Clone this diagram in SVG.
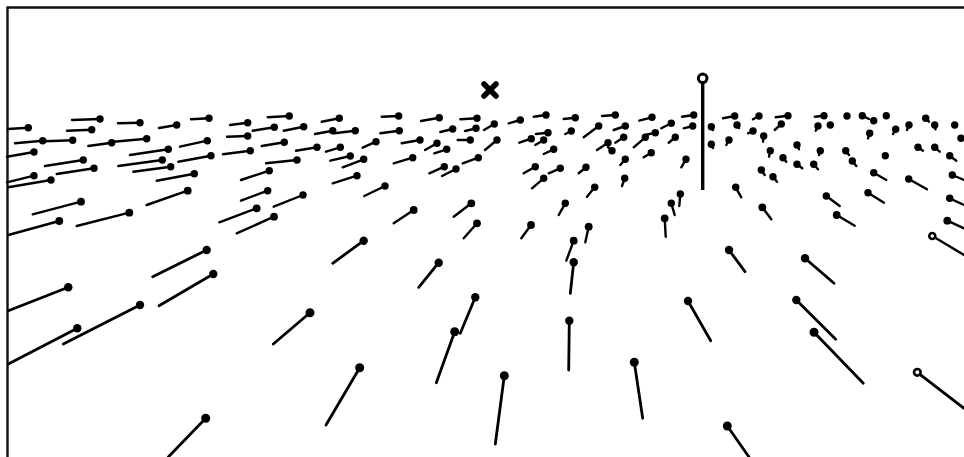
<svg xmlns="http://www.w3.org/2000/svg" width="964" height="457" viewBox="0 0 964 457">
<style>
.t{stroke:#000;stroke-width:2.4;stroke-linecap:round;fill:none}
.n{stroke:#000;stroke-width:2.8;stroke-linecap:round;fill:none}
.h{fill:#000}
.o{fill:#fff;stroke:#000;stroke-width:2.6}
.f{stroke:#111;stroke-width:2.4;fill:none}
</style>
<rect width="964" height="457" fill="#fff"/>
<g id="frame"><path class="f" d="M7.5 457 V7.5 H964"/></g>
<g id="far-pins">
<line class="t" x1="28.3" y1="127.7" x2="8" y2="129"/><circle class="h" cx="28.3" cy="127.7" r="3.7"/>
<line class="t" x1="100" y1="119" x2="72" y2="120"/><circle class="h" cx="100" cy="119" r="3.7"/>
<line class="t" x1="140" y1="122.7" x2="118" y2="123.3"/><circle class="h" cx="140" cy="122.7" r="3.7"/>
<line class="t" x1="176.7" y1="125" x2="159" y2="128"/><circle class="h" cx="176.7" cy="125" r="3.7"/>
<line class="t" x1="209" y1="118.3" x2="191" y2="119.3"/><circle class="h" cx="209" cy="118.3" r="3.7"/>
<line class="t" x1="91.7" y1="129.7" x2="67" y2="130.7"/><circle class="h" cx="91.7" cy="129.7" r="3.7"/>
<line class="t" x1="42.7" y1="140.7" x2="15" y2="143.3"/><circle class="h" cx="42.7" cy="140.7" r="3.7"/>
<line class="t" x1="72.7" y1="140.3" x2="45" y2="141.3"/><circle class="h" cx="72.7" cy="140.3" r="3.7"/>
<line class="t" x1="111.7" y1="142.7" x2="88.3" y2="146"/><circle class="h" cx="111.7" cy="142.7" r="3.7"/>
<line class="t" x1="146.7" y1="138.7" x2="113.3" y2="141.7"/><circle class="h" cx="146.7" cy="138.7" r="3.7"/>
<line class="t" x1="207.3" y1="140.7" x2="180" y2="146.7"/><circle class="h" cx="207.3" cy="140.7" r="3.7"/>
<line class="t" x1="34" y1="152" x2="7" y2="156.7"/><circle class="h" cx="34" cy="152" r="3.7"/>
<line class="t" x1="83.3" y1="160" x2="45" y2="166"/><circle class="h" cx="83.3" cy="160" r="3.7"/>
<line class="t" x1="94" y1="168.3" x2="56.7" y2="174"/><circle class="h" cx="94" cy="168.3" r="3.7"/>
<line class="t" x1="168.3" y1="149.3" x2="130" y2="155"/><circle class="h" cx="168.3" cy="149.3" r="3.7"/>
<line class="t" x1="162.3" y1="160" x2="118.3" y2="166"/><circle class="h" cx="162.3" cy="160" r="3.7"/>
<line class="t" x1="170.7" y1="166.7" x2="133.3" y2="171.7"/><circle class="h" cx="170.7" cy="166.7" r="3.7"/>
<line class="t" x1="211" y1="155.7" x2="178.3" y2="161.7"/><circle class="h" cx="211" cy="155.7" r="3.7"/>
<line class="t" x1="34" y1="175.7" x2="7" y2="182.3"/><circle class="h" cx="34" cy="175.7" r="3.7"/>
<line class="t" x1="51" y1="180" x2="8.3" y2="187.3"/><circle class="h" cx="51" cy="180" r="3.7"/>
<line class="t" x1="194.3" y1="173.7" x2="156.7" y2="180.7"/><circle class="h" cx="194.3" cy="173.7" r="3.7"/>
<line class="t" x1="187.7" y1="190.7" x2="146.7" y2="205"/><circle class="h" cx="187.7" cy="190.7" r="3.9"/>
<line class="t" x1="247.7" y1="122.7" x2="230" y2="125"/><circle class="h" cx="247.7" cy="122.7" r="3.7"/>
<line class="t" x1="247.7" y1="136" x2="227" y2="136.7"/><circle class="h" cx="247.7" cy="136" r="3.7"/>
<line class="t" x1="250.3" y1="150.7" x2="223" y2="154.3"/><circle class="h" cx="250.3" cy="150.7" r="3.7"/>
<line class="t" x1="289.3" y1="116" x2="267.7" y2="117.3"/><circle class="h" cx="289.3" cy="116" r="3.7"/>
<line class="t" x1="274.3" y1="127.3" x2="252.7" y2="130.7"/><circle class="h" cx="274.3" cy="127.3" r="3.7"/>
<line class="t" x1="303.7" y1="126.7" x2="283.7" y2="130.7"/><circle class="h" cx="303.7" cy="126.7" r="3.7"/>
<line class="t" x1="339.3" y1="118.3" x2="321.7" y2="121.7"/><circle class="h" cx="339.3" cy="118.3" r="3.7"/>
<line class="t" x1="332.7" y1="130.7" x2="315" y2="134"/><circle class="h" cx="332.7" cy="130.7" r="3.7"/>
<line class="t" x1="355.3" y1="130.7" x2="334.3" y2="133.3"/><circle class="h" cx="355.3" cy="130.7" r="3.7"/>
<line class="t" x1="398.7" y1="116" x2="381.7" y2="116.7"/><circle class="h" cx="398.7" cy="116" r="3.7"/>
<line class="t" x1="399.3" y1="130.7" x2="380.3" y2="133.3"/><circle class="h" cx="399.3" cy="130.7" r="3.7"/>
<line class="t" x1="439.3" y1="117.7" x2="421" y2="121"/><circle class="h" cx="439.3" cy="117.7" r="3.7"/>
<line class="t" x1="452.7" y1="129" x2="440.3" y2="132"/><circle class="h" cx="452.7" cy="129" r="3.7"/>
<line class="t" x1="477" y1="118.3" x2="460.3" y2="119.3"/><circle class="h" cx="477" cy="118.3" r="3.7"/>
<line class="t" x1="284.3" y1="142.3" x2="261.7" y2="146"/><circle class="h" cx="284.3" cy="142.3" r="3.7"/>
<line class="t" x1="317" y1="147.3" x2="296" y2="150.7"/><circle class="h" cx="317" cy="147.3" r="3.7"/>
<line class="t" x1="340.3" y1="147.3" x2="326" y2="151.7"/><circle class="h" cx="340.3" cy="147.3" r="3.7"/>
<line class="t" x1="376" y1="141.7" x2="362.7" y2="147.7"/><circle class="h" cx="376" cy="141.7" r="3.7"/>
<line class="t" x1="420" y1="140" x2="401.7" y2="143.3"/><circle class="h" cx="420" cy="140" r="3.7"/>
<line class="t" x1="437" y1="143.3" x2="425" y2="150"/><circle class="h" cx="437" cy="143.3" r="3.7"/>
<line class="t" x1="446.7" y1="149.3" x2="434.3" y2="153.3"/><circle class="h" cx="446.7" cy="149.3" r="3.7"/>
<line class="t" x1="470.3" y1="140" x2="457.7" y2="140"/><circle class="h" cx="470.3" cy="140" r="3.7"/>
<line class="t" x1="476" y1="128.3" x2="465" y2="131"/><circle class="h" cx="476" cy="128.3" r="3.7"/>
<line class="t" x1="297" y1="160" x2="266" y2="163.3"/><circle class="h" cx="297" cy="160" r="3.7"/>
<line class="t" x1="350.3" y1="156" x2="330.3" y2="160.7"/><circle class="h" cx="350.3" cy="156" r="3.7"/>
<line class="t" x1="363.7" y1="159.3" x2="342.7" y2="167.3"/><circle class="h" cx="363.7" cy="159.3" r="3.7"/>
<line class="t" x1="412.7" y1="157.7" x2="393.7" y2="163.3"/><circle class="h" cx="412.7" cy="157.7" r="3.7"/>
<line class="t" x1="444.3" y1="166.7" x2="429.3" y2="173.3"/><circle class="h" cx="444.3" cy="166.7" r="3.7"/>
<line class="t" x1="456" y1="169" x2="442" y2="176"/><circle class="h" cx="456" cy="169" r="3.7"/>
<line class="t" x1="478.3" y1="157.7" x2="462.7" y2="163.3"/><circle class="h" cx="478.3" cy="157.7" r="3.7"/>
<line class="t" x1="269.3" y1="170.7" x2="241" y2="180"/><circle class="h" cx="269.3" cy="170.7" r="3.7"/>
<line class="t" x1="357" y1="175.7" x2="332.7" y2="183.3"/><circle class="h" cx="357" cy="175.7" r="3.7"/>
<line class="t" x1="385" y1="186" x2="364.3" y2="196"/><circle class="h" cx="385" cy="186" r="3.7"/>
<line class="t" x1="267.7" y1="190.7" x2="241" y2="200.7"/><circle class="h" cx="267.7" cy="190.7" r="3.7"/>
<line class="t" x1="303" y1="195" x2="273.7" y2="206.7"/><circle class="h" cx="303" cy="195" r="3.7"/>
<line class="t" x1="494.3" y1="124" x2="484" y2="130"/><circle class="h" cx="494.3" cy="124" r="3.7"/>
<line class="t" x1="497" y1="140" x2="485" y2="150"/><circle class="h" cx="497" cy="140" r="3.7"/>
<line class="t" x1="520.3" y1="120" x2="508.7" y2="123.3"/><circle class="h" cx="520.3" cy="120" r="3.7"/>
<line class="t" x1="546" y1="115" x2="533.7" y2="116.7"/><circle class="h" cx="546" cy="115" r="3.7"/>
<line class="t" x1="548" y1="132.7" x2="536" y2="134"/><circle class="h" cx="548" cy="132.7" r="3.7"/>
<line class="t" x1="531.3" y1="138.7" x2="519.3" y2="142.7"/><circle class="h" cx="531.3" cy="138.7" r="3.7"/>
<line class="t" x1="543.7" y1="140" x2="535.3" y2="145"/><circle class="h" cx="543.7" cy="140" r="3.7"/>
<line class="t" x1="553.7" y1="149.3" x2="543.7" y2="154"/><circle class="h" cx="553.7" cy="149.3" r="3.7"/>
<line class="t" x1="575.3" y1="117.7" x2="563.7" y2="119"/><circle class="h" cx="575.3" cy="117.7" r="3.7"/>
<line class="t" x1="571.3" y1="131" x2="565.3" y2="134"/><circle class="h" cx="571.3" cy="131" r="3.7"/>
<line class="t" x1="598.7" y1="126" x2="583.7" y2="137.3"/><circle class="h" cx="598.7" cy="126" r="3.7"/>
<line class="t" x1="615.3" y1="115" x2="602" y2="116"/><circle class="h" cx="615.3" cy="115" r="3.7"/>
<line class="t" x1="625.3" y1="126" x2="613.7" y2="130"/><circle class="h" cx="625.3" cy="126" r="3.7"/>
<line class="t" x1="623.7" y1="137.3" x2="615.3" y2="142.7"/><circle class="h" cx="623.7" cy="137.3" r="3.7"/>
<line class="t" x1="608" y1="142.7" x2="597" y2="150"/><circle class="h" cx="608" cy="142.7" r="3.7"/>
<line class="t" x1="612" y1="150.7" x2="608" y2="147"/><circle class="h" cx="612" cy="150.7" r="3.7"/>
<line class="t" x1="652" y1="117.3" x2="639.3" y2="120.7"/><circle class="h" cx="652" cy="117.3" r="3.7"/>
<line class="t" x1="655.3" y1="132.7" x2="645.3" y2="135"/><circle class="h" cx="655.3" cy="132.7" r="3.7"/>
<line class="t" x1="645.3" y1="137.3" x2="633.7" y2="147.3"/><circle class="h" cx="645.3" cy="137.3" r="3.7"/>
<line class="t" x1="651.3" y1="152.7" x2="643.7" y2="157.3"/><circle class="h" cx="651.3" cy="152.7" r="3.7"/>
<line class="t" x1="671.3" y1="123.3" x2="661.3" y2="128.3"/><circle class="h" cx="671.3" cy="123.3" r="3.7"/>
<line class="t" x1="675.3" y1="137.3" x2="668.7" y2="142.7"/><circle class="h" cx="675.3" cy="137.3" r="3.7"/>
<line class="t" x1="693.7" y1="115" x2="682" y2="116.7"/><circle class="h" cx="693.7" cy="115" r="3.7"/>
<line class="t" x1="692.7" y1="126" x2="683.7" y2="128.3"/><circle class="h" cx="692.7" cy="126" r="3.7"/>
<line class="t" x1="625.3" y1="159.3" x2="620.3" y2="165"/><circle class="h" cx="625.3" cy="159.3" r="3.7"/>
<line class="t" x1="624.7" y1="178.3" x2="622" y2="186"/><circle class="h" cx="624.7" cy="178.3" r="3.7"/>
<line class="t" x1="686" y1="159.3" x2="681.3" y2="167.3"/><circle class="h" cx="686" cy="159.3" r="3.7"/>
<line class="t" x1="535.3" y1="166.7" x2="523.7" y2="173.3"/><circle class="h" cx="535.3" cy="166.7" r="3.7"/>
<line class="t" x1="560.3" y1="168.3" x2="548.7" y2="173.3"/><circle class="h" cx="560.3" cy="168.3" r="3.7"/>
<line class="t" x1="543.7" y1="178.3" x2="532" y2="188.3"/><circle class="h" cx="543.7" cy="178.3" r="3.7"/>
<line class="t" x1="586" y1="167.3" x2="578.7" y2="173.3"/><circle class="h" cx="586" cy="167.3" r="3.7"/>
<line class="t" x1="594.7" y1="187.3" x2="587" y2="196.7"/><circle class="h" cx="594.7" cy="187.3" r="3.7"/>
<line class="t" x1="565.3" y1="203.3" x2="558.7" y2="215"/><circle class="h" cx="565.3" cy="203.3" r="3.7"/>
<line class="t" x1="680.3" y1="194" x2="679.3" y2="206"/><circle class="h" cx="680.3" cy="194" r="3.7"/>
<line class="t" x1="671.3" y1="203.3" x2="674.7" y2="215"/><circle class="h" cx="671.3" cy="203.3" r="3.7"/>
<line class="t" x1="711.3" y1="126.7" x2="713" y2="130"/><circle class="h" cx="711.3" cy="126.7" r="3.7"/>
<line class="t" x1="711.3" y1="144.3" x2="713" y2="148"/><circle class="h" cx="711.3" cy="144.3" r="3.7"/>
<line class="t" x1="734.7" y1="116" x2="723" y2="118.3"/><circle class="h" cx="734.7" cy="116" r="3.7"/>
<line class="t" x1="737" y1="125" x2="739" y2="128"/><circle class="h" cx="737" cy="125" r="3.7"/>
<line class="t" x1="759" y1="116" x2="753" y2="119.3"/><circle class="h" cx="759" cy="116" r="3.7"/>
<line class="t" x1="753" y1="131" x2="748" y2="133.3"/><circle class="h" cx="753" cy="131" r="3.7"/>
<line class="t" x1="763.7" y1="136" x2="763" y2="141.7"/><circle class="h" cx="763.7" cy="136" r="3.7"/>
<line class="t" x1="788" y1="115.7" x2="775.7" y2="117.3"/><circle class="h" cx="788" cy="115.7" r="3.7"/>
<line class="t" x1="781.3" y1="124" x2="774.7" y2="130"/><circle class="h" cx="781.3" cy="124" r="3.7"/>
<line class="t" x1="729" y1="140" x2="726.3" y2="145"/><circle class="h" cx="729" cy="140" r="3.7"/>
<line class="t" x1="824" y1="115.7" x2="814.7" y2="116.7"/><circle class="h" cx="824" cy="115.7" r="3.7"/>
<circle class="h" cx="830.3" cy="125" r="3.7"/>
<line class="t" x1="818" y1="126" x2="815.7" y2="130.7"/><circle class="h" cx="818" cy="126" r="3.7"/>
<circle class="h" cx="847" cy="116" r="3.7"/>
<line class="t" x1="862.3" y1="115.7" x2="869" y2="119"/><circle class="h" cx="862.3" cy="115.7" r="3.7"/>
<circle class="h" cx="873.7" cy="120.7" r="3.7"/>
<circle class="h" cx="886.3" cy="115.7" r="3.7"/>
<line class="t" x1="869.7" y1="133.3" x2="868" y2="138.3"/><circle class="h" cx="869.7" cy="133.3" r="3.7"/>
<line class="t" x1="895.7" y1="129.3" x2="893" y2="134"/><circle class="h" cx="895.7" cy="129.3" r="3.7"/>
<line class="t" x1="909" y1="125" x2="907" y2="130"/><circle class="h" cx="909" cy="125" r="3.7"/>
<line class="t" x1="925.7" y1="118.3" x2="929" y2="121.7"/><circle class="h" cx="925.7" cy="118.3" r="3.7"/>
<line class="t" x1="934.7" y1="125" x2="935.5" y2="129.3"/><circle class="h" cx="934.7" cy="125" r="3.7"/>
<circle class="h" cx="954.7" cy="125" r="3.7"/>
<circle class="h" cx="961" cy="138.3" r="3.7"/>
<line class="t" x1="797" y1="145" x2="799" y2="149.3"/><circle class="h" cx="797" cy="145" r="3.7"/>
<line class="t" x1="770.3" y1="150.7" x2="769" y2="156.7"/><circle class="h" cx="770.3" cy="150.7" r="3.7"/>
<line class="t" x1="783" y1="157.7" x2="786.3" y2="161.7"/><circle class="h" cx="783" cy="157.7" r="3.7"/>
<line class="t" x1="820.3" y1="150.7" x2="819" y2="155"/><circle class="h" cx="820.3" cy="150.7" r="3.7"/>
<line class="t" x1="845.7" y1="150.7" x2="849" y2="155"/><circle class="h" cx="845.7" cy="150.7" r="3.7"/>
<line class="t" x1="852.3" y1="161" x2="856.3" y2="166"/><circle class="h" cx="852.3" cy="161" r="3.7"/>
<line class="t" x1="797" y1="164.3" x2="802.3" y2="168.3"/><circle class="h" cx="797" cy="164.3" r="3.7"/>
<line class="t" x1="813.7" y1="164.3" x2="818" y2="169.3"/><circle class="h" cx="813.7" cy="164.3" r="3.7"/>
<circle class="h" cx="885.3" cy="155.7" r="3.7"/>
<line class="t" x1="918" y1="147.3" x2="923" y2="150.7"/><circle class="h" cx="918" cy="147.3" r="3.7"/>
<line class="t" x1="934.7" y1="147.3" x2="939.7" y2="151.7"/><circle class="h" cx="934.7" cy="147.3" r="3.7"/>
<line class="t" x1="949.7" y1="155.7" x2="956.3" y2="160.7"/><circle class="h" cx="949.7" cy="155.7" r="3.7"/>
<line class="t" x1="761.3" y1="170" x2="764.7" y2="175"/><circle class="h" cx="761.3" cy="170" r="3.7"/>
<line class="t" x1="773" y1="176.7" x2="777" y2="181.7"/><circle class="h" cx="773" cy="176.7" r="3.7"/>
<line class="t" x1="873.7" y1="172.7" x2="886.3" y2="180"/><circle class="h" cx="873.7" cy="172.7" r="3.7"/>
<line class="t" x1="908.7" y1="179" x2="927" y2="189.3"/><circle class="h" cx="908.7" cy="179" r="3.7"/>
<line class="t" x1="952.3" y1="175" x2="964" y2="180"/><circle class="h" cx="952.3" cy="175" r="3.7"/>
<line class="t" x1="735.7" y1="187.3" x2="741.3" y2="197.3"/><circle class="h" cx="735.7" cy="187.3" r="3.7"/>
<line class="t" x1="826.3" y1="196" x2="839.7" y2="206"/><circle class="h" cx="826.3" cy="196" r="3.7"/>
<line class="t" x1="868" y1="192.7" x2="884" y2="202.7"/><circle class="h" cx="868" cy="192.7" r="3.7"/>
<line class="t" x1="949.7" y1="198.3" x2="964" y2="205"/><circle class="h" cx="949.7" cy="198.3" r="3.7"/>
</g>
<g id="near-pins">
<line class="t" x1="256.7" y1="208.3" x2="219.3" y2="222.3"/><circle class="h" cx="256.7" cy="208.3" r="3.9"/>
<line class="t" x1="413.7" y1="210" x2="393.7" y2="223.3"/><circle class="h" cx="413.7" cy="210" r="3.9"/>
<line class="t" x1="471.3" y1="203.3" x2="453.7" y2="216.7"/><circle class="h" cx="471.3" cy="203.3" r="3.9"/>
<line class="t" x1="664.7" y1="218.3" x2="665.7" y2="236.7"/><circle class="h" cx="664.7" cy="218.3" r="3.9"/>
<line class="t" x1="762.3" y1="207.3" x2="771.3" y2="219.3"/><circle class="h" cx="762.3" cy="207.3" r="3.9"/>
<line class="t" x1="836.7" y1="215" x2="854.7" y2="225.7"/><circle class="h" cx="836.7" cy="215" r="3.9"/>
<line class="t" x1="947.3" y1="220.7" x2="964" y2="228.3"/><circle class="h" cx="947.3" cy="220.7" r="3.9"/>
<line class="t" x1="932.3" y1="236" x2="964" y2="255"/><circle class="o" cx="932.3" cy="236" r="3"/>
<line class="n" x1="729" y1="250" x2="745" y2="271.7"/><circle class="h" cx="729" cy="250" r="4.2"/>
<line class="n" x1="805" y1="258.3" x2="834" y2="283.3"/><circle class="h" cx="805" cy="258.3" r="4.2"/>
<line class="n" x1="688" y1="301" x2="710.7" y2="340.7"/><circle class="h" cx="688" cy="301" r="4.2"/>
<line class="n" x1="796.3" y1="300" x2="835.7" y2="339.3"/><circle class="h" cx="796.3" cy="300" r="4.2"/>
<line class="n" x1="814" y1="332.3" x2="863.3" y2="383.3"/><circle class="h" cx="814" cy="332.3" r="4.5"/>
<line class="n" x1="917.3" y1="372.3" x2="964" y2="408.3"/><circle class="o" cx="917.3" cy="372.3" r="3.3"/>
<line class="n" x1="727.3" y1="426" x2="749" y2="457"/><circle class="h" cx="727.3" cy="426" r="4.5"/>
<line class="t" x1="477" y1="223.3" x2="463.7" y2="238.3"/><circle class="h" cx="477" cy="223.3" r="3.9"/>
<line class="t" x1="531" y1="225" x2="521.3" y2="238.3"/><circle class="h" cx="531" cy="225" r="3.9"/>
<line class="t" x1="588.7" y1="226.7" x2="585.3" y2="242.3"/><circle class="h" cx="588.7" cy="226.7" r="3.9"/>
<line class="t" x1="573.7" y1="240.7" x2="566.3" y2="260.7"/><circle class="h" cx="573.7" cy="240.7" r="3.9"/>
<line class="n" x1="363.7" y1="240.7" x2="332.7" y2="263.3"/><circle class="h" cx="363.7" cy="240.7" r="4.2"/>
<line class="n" x1="438.7" y1="262.7" x2="418.7" y2="287.3"/><circle class="h" cx="438.7" cy="262.7" r="4.2"/>
<line class="n" x1="573.7" y1="262.3" x2="570.3" y2="293.3"/><circle class="h" cx="573.7" cy="262.3" r="4.2"/>
<line class="n" x1="475.3" y1="297.3" x2="460.3" y2="333.3"/><circle class="h" cx="475.3" cy="297.3" r="4.2"/>
<line class="n" x1="454.7" y1="331.7" x2="436.3" y2="382.7"/><circle class="h" cx="454.7" cy="331.7" r="4.5"/>
<line class="n" x1="569.3" y1="320.7" x2="568.7" y2="370"/><circle class="h" cx="569.3" cy="320.7" r="4.2"/>
<line class="n" x1="359.7" y1="367.7" x2="326" y2="425"/><circle class="h" cx="359.7" cy="367.7" r="4.5"/>
<line class="n" x1="504.3" y1="375.7" x2="495.3" y2="444"/><circle class="h" cx="504.3" cy="375.7" r="4.5"/>
<line class="n" x1="634.3" y1="362.3" x2="642.7" y2="418.3"/><circle class="h" cx="634.3" cy="362.3" r="4.5"/>
<line class="t" x1="81" y1="201.7" x2="32.7" y2="214.3"/><circle class="h" cx="81" cy="201.7" r="3.9"/>
<line class="t" x1="59.3" y1="221" x2="8.3" y2="235"/><circle class="h" cx="59.3" cy="221" r="3.9"/>
<line class="t" x1="129.3" y1="212.7" x2="76.7" y2="226"/><circle class="h" cx="129.3" cy="212.7" r="3.9"/>
<line class="t" x1="274" y1="216.7" x2="236.7" y2="233.3"/><circle class="h" cx="274" cy="216.7" r="3.9"/>
<line class="n" x1="206.7" y1="250" x2="152.7" y2="276.7"/><circle class="h" cx="206.7" cy="250" r="4.2"/>
<line class="n" x1="213.3" y1="274" x2="159" y2="305.7"/><circle class="h" cx="213.3" cy="274" r="4.2"/>
<line class="n" x1="68.3" y1="287.3" x2="8.3" y2="310.7"/><circle class="h" cx="68.3" cy="287.3" r="4.2"/>
<line class="n" x1="140" y1="305" x2="63.3" y2="344"/><circle class="h" cx="140" cy="305" r="4.2"/>
<line class="n" x1="77.3" y1="328.3" x2="8.3" y2="364"/><circle class="h" cx="77.3" cy="328.3" r="4.2"/>
<line class="n" x1="310" y1="312.7" x2="273.3" y2="344"/><circle class="h" cx="310" cy="312.7" r="4.5"/>
<line class="n" x1="205.7" y1="418.3" x2="168.3" y2="457"/><circle class="h" cx="205.7" cy="418.3" r="4.5"/>
</g>
<g id="marker-x"><path d="M484 84 L496 96 M496 84 L484 96" stroke="#000" stroke-width="5.5" stroke-linecap="round"/></g>
<g id="pole">
<line x1="702.7" y1="83" x2="702.7" y2="190" stroke="#000" stroke-width="3.4"/>
<circle cx="702.7" cy="78.3" r="4.3" fill="#fff" stroke="#000" stroke-width="3"/>
</g>
</svg>
